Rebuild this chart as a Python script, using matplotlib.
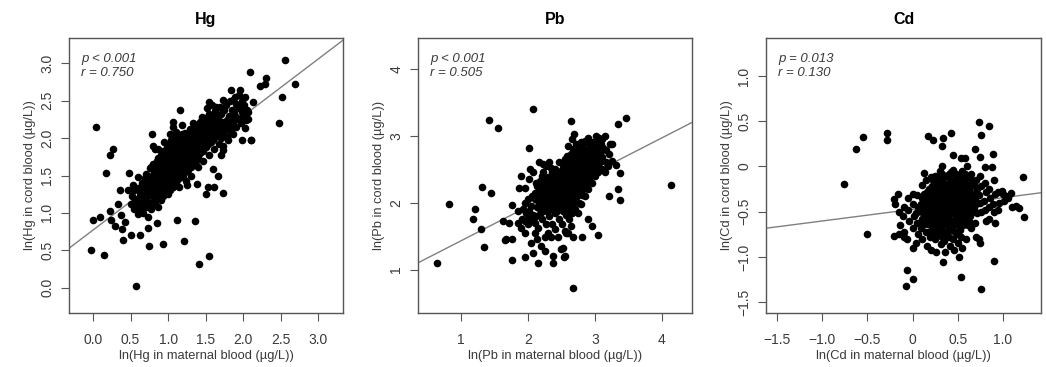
import matplotlib
matplotlib.use("Agg")
import matplotlib.pyplot as plt

plt.rcParams['font.family'] = ['Liberation Sans', 'DejaVu Sans']

# ---------------- data ----------------
titles = ["Hg", "Pb", "Cd"]
xlabels = ["ln(Hg in maternal blood (µg/L))", "ln(Pb in maternal blood (µg/L))", "ln(Cd in maternal blood (µg/L))"]
ylabels = ["ln(Hg in cord blood (µg/L))", "ln(Pb in cord blood (µg/L))", "ln(Cd in cord blood (µg/L))"]
p_texts = ["p < 0.001", "p < 0.001", "p = 0.013"]
r_texts = ["r = 0.750", "r = 0.505", "r = 0.130"]
fit_intercepts = [0.77, 0.915, -0.474]
fit_slopes = [0.763, 0.513, 0.129]
xlims = [(-0.32, 3.33), (0.36, 4.45), (-1.62, 1.42)]
ylims = [(-0.34, 3.34), (0.35, 4.46), (-1.62, 1.42)]
xticks = [[0.0, 0.5, 1.0, 1.5, 2.0, 2.5, 3.0], [1, 2, 3, 4], [-1.5, -1.0, -0.5, 0, 0.5, 1.0]]
xticklabels = [["0.0", "0.5", "1.0", "1.5", "2.0", "2.5", "3.0"], ["1", "2", "3", "4"],
               ["\u22121.5", "\u22121.0", "\u22120.5", "0", "0.5", "1.0"]]
yticks = [[0.0, 0.5, 1.0, 1.5, 2.0, 2.5, 3.0], [1, 2, 3, 4], [-1.5, -1.0, -0.5, 0, 0.5, 1.0]]
yticklabels = [["0.0", "0.5", "1.0", "1.5", "2.0", "2.5", "3.0"], ["1", "2", "3", "4"],
               ["\u22121.5", "\u22121.0", "\u22120.5", "0", "0.5", "1.0"]]

hg_points = [
    # sparse / outlying points
    (-0.03, 0.50), (0.00, 0.90), (0.09, 0.94), (0.04, 2.15), (0.14, 0.44), (0.17, 1.53), (0.22, 1.03),
    (0.23, 1.77), (0.27, 1.86), (0.24, 0.90), (0.29, 0.83), (0.33, 1.12), (0.36, 1.30), (0.37, 0.97),
    (0.40, 0.64), (0.38, 0.79), (0.42, 0.88), (0.46, 1.30), (0.48, 1.54), (0.50, 0.70), (0.53, 1.37),
    (0.57, 0.02), (0.62, 1.19), (0.60, 1.48), (0.62, 0.70), (0.75, 0.55), (0.73, 0.80), (0.79, 2.05),
    (0.80, 1.90), (0.83, 1.86), (0.85, 0.87), (0.93, 0.59), (1.16, 2.37), (1.12, 0.91), (1.21, 0.63),
    (1.36, 0.89), (1.41, 0.31), (1.54, 0.42), (1.50, 1.25), (1.53, 1.35), (1.61, 1.35), (1.73, 1.26),
    (1.67, 1.50), (1.60, 1.59), (1.25, 1.37), (1.38, 1.39), (1.55, 2.49), (1.64, 2.42), (1.73, 2.51),
    (1.84, 2.64), (1.96, 2.64), (1.87, 2.51), (1.91, 2.46), (2.02, 2.37), (2.04, 2.24), (2.02, 2.13),
    (2.11, 1.97), (1.98, 1.97), (1.87, 2.15), (1.78, 2.20), (1.69, 2.11), (1.73, 1.84), (1.71, 1.77),
    (2.09, 2.88), (2.13, 2.48), (2.07, 2.35), (2.22, 2.70), (2.29, 2.72), (2.30, 2.81), (2.56, 3.05),
    (2.52, 2.55), (2.48, 2.20), (2.69, 2.72), (2.10, 1.98),
    # dense core
    (0.50, 1.12), (0.52, 1.22), (0.55, 1.05), (0.56, 1.18), (0.54, 1.30),
    (0.60, 0.98), (0.59, 1.10), (0.61, 1.20), (0.60, 1.33),
    (0.63, 1.05), (0.64, 1.15), (0.62, 1.27), (0.65, 1.40),
    (0.67, 1.00), (0.68, 1.10), (0.66, 1.22), (0.67, 1.35), (0.69, 1.47),
    (0.70, 1.08), (0.71, 1.17), (0.72, 1.28), (0.70, 1.40), (0.71, 1.52),
    (0.73, 0.95), (0.74, 1.12), (0.75, 1.24), (0.73, 1.33), (0.74, 1.45), (0.76, 1.60),
    (0.77, 1.05), (0.78, 1.15), (0.77, 1.27), (0.79, 1.38), (0.78, 1.50), (0.77, 1.62),
    (0.80, 1.10), (0.81, 1.20), (0.80, 1.32), (0.82, 1.42), (0.81, 1.55), (0.80, 1.66),
    (0.83, 1.15), (0.84, 1.25), (0.85, 1.36), (0.83, 1.47), (0.84, 1.58), (0.85, 1.70), (0.86, 1.08),
    (0.87, 1.20), (0.88, 1.30), (0.87, 1.40), (0.89, 1.52), (0.88, 1.62), (0.87, 1.73), (0.86, 1.85),
    (0.90, 1.17), (0.91, 1.27), (0.92, 1.37), (0.90, 1.46), (0.91, 1.57), (0.92, 1.67), (0.90, 1.78),
    (0.93, 1.22), (0.94, 1.33), (0.95, 1.43), (0.93, 1.52), (0.95, 1.62), (0.94, 1.72), (0.93, 1.83), (0.95, 1.95),
    (0.97, 1.28), (0.98, 1.38), (0.97, 1.48), (0.99, 1.58), (0.98, 1.67), (0.97, 1.77), (0.99, 1.88),
    (1.00, 1.25), (1.01, 1.35), (1.02, 1.45), (1.00, 1.55), (1.01, 1.63), (1.02, 1.72), (1.00, 1.82), (1.01, 1.92), (1.02, 2.05),
    (1.03, 1.30), (1.04, 1.42), (1.05, 1.52), (1.03, 1.60), (1.04, 1.68), (1.05, 1.77), (1.03, 1.87), (1.04, 1.97), (1.06, 2.15),
    (1.07, 1.35), (1.08, 1.47), (1.07, 1.57), (1.09, 1.65), (1.08, 1.73), (1.07, 1.82), (1.09, 1.92), (1.08, 2.02), (1.07, 2.22),
    (1.10, 1.40), (1.11, 1.50), (1.12, 1.60), (1.10, 1.70), (1.11, 1.78), (1.12, 1.86), (1.10, 1.96), (1.11, 2.08),
    (1.13, 1.45), (1.14, 1.55), (1.15, 1.64), (1.13, 1.73), (1.14, 1.82), (1.15, 1.90), (1.13, 2.00), (1.14, 1.35),
    (1.17, 1.50), (1.18, 1.60), (1.17, 1.68), (1.19, 1.77), (1.18, 1.86), (1.17, 1.95), (1.19, 2.05), (1.18, 2.17),
    (1.20, 1.48), (1.21, 1.57), (1.22, 1.66), (1.20, 1.74), (1.21, 1.82), (1.22, 1.92), (1.20, 2.00),
    (1.23, 1.55), (1.24, 1.63), (1.25, 1.72), (1.23, 1.80), (1.24, 1.88), (1.25, 1.97), (1.23, 2.07), (1.24, 1.42),
    (1.27, 1.58), (1.28, 1.68), (1.27, 1.77), (1.29, 1.85), (1.28, 1.93), (1.27, 2.02), (1.29, 2.12),
    (1.30, 1.62), (1.31, 1.72), (1.32, 1.80), (1.30, 1.90), (1.31, 1.98), (1.32, 2.07), (1.30, 1.50),
    (1.33, 1.66), (1.34, 1.76), (1.35, 1.85), (1.33, 1.94), (1.34, 2.03), (1.35, 2.12), (1.33, 2.20),
    (1.37, 1.70), (1.38, 1.80), (1.37, 1.90), (1.39, 1.98), (1.38, 2.08), (1.37, 2.17),
    (1.40, 1.75), (1.41, 1.85), (1.42, 1.94), (1.40, 2.03), (1.41, 2.12), (1.42, 2.22), (1.40, 1.62),
    (1.43, 1.80), (1.44, 1.90), (1.45, 1.98), (1.43, 2.08), (1.44, 2.17), (1.45, 2.28),
    (1.47, 1.83), (1.48, 1.93), (1.47, 2.03), (1.49, 2.12), (1.48, 2.22), (1.47, 1.70),
    (1.50, 1.88), (1.51, 1.97), (1.52, 2.07), (1.50, 2.16), (1.51, 2.27), (1.52, 2.40),
    (1.53, 1.92), (1.54, 2.02), (1.55, 2.12), (1.53, 2.20), (1.54, 2.32), (1.55, 1.78),
    (1.57, 1.95), (1.58, 2.05), (1.57, 2.15), (1.59, 2.25), (1.58, 2.45),
    (1.60, 1.98), (1.61, 2.10), (1.62, 2.20), (1.60, 2.30), (1.61, 1.85),
    (1.63, 2.02), (1.64, 2.13), (1.65, 2.24), (1.63, 2.36),
    (1.67, 2.05), (1.68, 2.17), (1.67, 2.28), (1.69, 2.42), (1.68, 1.92),
    (1.70, 2.00), (1.71, 2.12), (1.72, 2.22), (1.70, 2.32),
    (1.73, 2.08), (1.74, 2.18), (1.75, 2.38), (1.73, 1.90),
    (1.77, 2.12), (1.78, 2.24), (1.77, 2.44), (1.79, 2.02),
    (1.80, 2.18), (1.81, 2.30), (1.82, 2.50), (1.80, 1.98),
    (1.83, 2.10), (1.84, 2.25), (1.85, 2.38),
    (1.87, 2.20), (1.88, 2.33), (1.89, 2.55), (1.87, 2.05),
    (1.90, 2.15), (1.91, 2.28), (1.92, 2.45),
    (1.93, 2.25), (1.94, 2.40), (1.95, 2.58),
    (1.97, 2.20), (1.98, 2.35), (1.99, 2.50),
    (2.00, 2.30), (2.01, 2.45), (2.02, 2.55), (2.05, 2.38), (2.06, 2.25),
]

pb_points = [
    # sparse / outlying points
    (0.65, 1.10), (0.82, 1.98), (1.21, 1.90), (1.18, 1.76), (1.30, 1.60), (1.31, 2.23), (1.45, 2.15),
    (1.35, 1.34), (1.42, 3.23), (1.56, 3.11), (2.07, 3.40), (2.02, 2.82), (2.64, 3.22), (2.67, 0.72),
    (3.35, 3.17), (3.47, 3.26), (4.14, 2.27), (3.21, 2.10), (3.37, 2.04), (3.34, 2.21), (3.37, 2.44),
    (3.32, 2.56), (3.05, 1.51), (2.95, 1.65), (2.90, 1.76), (2.81, 1.48), (2.68, 1.49), (2.57, 1.55),
    (2.54, 1.19), (2.52, 1.32), (2.37, 1.20), (2.37, 1.10), (2.15, 1.10), (1.95, 1.19), (1.77, 1.14),
    (2.07, 1.25), (1.66, 1.44), (1.68, 1.46), (1.77, 1.46), (1.63, 1.73), (1.72, 1.70), (1.77, 1.97),
    (2.69, 3.03), (2.66, 2.95),
    # dense core
    (1.85, 1.70), (1.86, 1.88), (1.87, 2.22),
    (1.90, 1.62), (1.91, 1.75), (1.92, 1.90), (1.90, 2.40),
    (1.95, 1.55), (1.96, 1.72), (1.97, 1.85), (1.95, 2.00), (1.96, 2.22),
    (2.00, 1.68), (2.01, 1.78), (2.02, 1.88), (2.00, 2.05), (2.01, 2.35), (2.03, 2.50),
    (2.05, 1.40), (2.06, 1.72), (2.07, 1.82), (2.05, 1.95), (2.06, 2.10), (2.07, 2.45),
    (2.10, 1.55), (2.11, 1.70), (2.12, 1.80), (2.10, 2.05), (2.11, 2.15), (2.12, 2.30), (2.13, 1.45),
    (2.15, 1.62), (2.16, 1.92), (2.17, 2.00), (2.15, 2.10), (2.16, 2.20), (2.17, 2.60),
    (2.20, 1.35), (2.21, 1.75), (2.22, 1.88), (2.20, 1.98), (2.21, 2.08), (2.22, 2.18), (2.20, 2.28), (2.21, 2.40), (2.23, 2.58),
    (2.25, 1.28), (2.26, 1.48), (2.27, 1.68), (2.25, 1.92), (2.26, 2.02), (2.27, 2.12), (2.25, 2.22), (2.26, 2.35), (2.27, 2.55),
    (2.30, 1.55), (2.31, 1.80), (2.32, 1.95), (2.30, 2.05), (2.31, 2.15), (2.32, 2.25), (2.30, 2.38), (2.31, 2.60),
    (2.35, 1.48), (2.36, 1.68), (2.37, 1.90), (2.35, 2.00), (2.36, 2.10), (2.37, 2.20), (2.35, 2.30), (2.36, 2.45),
    (2.40, 1.60), (2.41, 1.85), (2.42, 1.95), (2.40, 2.05), (2.41, 2.15), (2.42, 2.25), (2.40, 2.35), (2.41, 2.50),
    (2.45, 1.48), (2.46, 1.75), (2.47, 1.92), (2.45, 2.02), (2.46, 2.12), (2.47, 2.22), (2.45, 2.32), (2.46, 2.42), (2.47, 2.60),
    (2.50, 1.30), (2.51, 1.68), (2.52, 1.88), (2.50, 1.98), (2.51, 2.08), (2.52, 2.18), (2.50, 2.28), (2.51, 2.40), (2.52, 2.52),
    (2.55, 1.20), (2.56, 1.58), (2.57, 1.82), (2.55, 1.95), (2.56, 2.05), (2.57, 2.15), (2.55, 2.25), (2.56, 2.35), (2.57, 2.48), (2.55, 2.65),
    (2.60, 1.55), (2.61, 1.75), (2.62, 1.90), (2.60, 2.02), (2.61, 2.12), (2.62, 2.22), (2.60, 2.32), (2.61, 2.42), (2.62, 2.55), (2.60, 2.85),
    (2.65, 1.65), (2.66, 1.85), (2.67, 2.08), (2.65, 2.18), (2.66, 2.28), (2.67, 2.38), (2.65, 2.50), (2.66, 2.62), (2.67, 2.80),
    (2.70, 1.90), (2.71, 2.05), (2.72, 2.15), (2.70, 2.25), (2.71, 2.35), (2.72, 2.45), (2.70, 2.58), (2.71, 2.70), (2.72, 2.88),
    (2.75, 1.85), (2.76, 2.00), (2.77, 2.20), (2.75, 2.30), (2.76, 2.40), (2.77, 2.52), (2.75, 2.65), (2.76, 2.78),
    (2.80, 1.98), (2.81, 2.12), (2.82, 2.28), (2.80, 2.38), (2.81, 2.48), (2.82, 2.58), (2.80, 2.70), (2.81, 2.85),
    (2.85, 2.10), (2.86, 2.25), (2.87, 2.40), (2.85, 2.52), (2.86, 2.62), (2.87, 2.75), (2.85, 2.92),
    (2.90, 2.20), (2.91, 2.35), (2.92, 2.48), (2.90, 2.60), (2.91, 2.72), (2.92, 2.82), (2.90, 2.97),
    (2.95, 2.30), (2.96, 2.45), (2.97, 2.58), (2.95, 2.68), (2.96, 2.80), (2.97, 2.90),
    (3.00, 2.40), (3.01, 2.52), (3.02, 2.65), (3.00, 2.78), (3.01, 2.92), (3.02, 3.00),
    (3.05, 2.45), (3.06, 2.62), (3.07, 2.75), (3.05, 2.88), (3.06, 2.97),
    (3.10, 2.50), (3.11, 2.68), (3.12, 2.82), (3.10, 2.95),
    (3.15, 2.45), (3.16, 2.60), (3.17, 2.78), (3.15, 3.00),
    (3.20, 2.55), (3.21, 2.72), (3.22, 2.87),
    (3.25, 2.62), (3.26, 2.88),
    # dense core, in-between points
    (2.13, 1.93), (2.13, 2.13), (2.14, 2.25),
    (2.18, 1.83), (2.18, 2.03), (2.19, 2.13), (2.18, 2.33),
    (2.23, 1.93), (2.23, 2.03), (2.24, 2.13), (2.23, 2.45),
    (2.28, 1.87), (2.28, 1.97), (2.29, 2.07), (2.28, 2.17), (2.28, 2.30),
    (2.33, 1.90), (2.33, 2.00), (2.34, 2.10), (2.33, 2.20), (2.33, 2.33), (2.34, 2.52),
    (2.38, 1.95), (2.38, 2.05), (2.39, 2.15), (2.38, 2.25), (2.38, 2.40),
    (2.43, 1.88), (2.43, 2.00), (2.44, 2.10), (2.43, 2.20), (2.43, 2.30), (2.44, 2.45),
    (2.48, 1.95), (2.48, 2.05), (2.49, 2.15), (2.48, 2.25), (2.48, 2.35), (2.49, 2.47),
    (2.53, 1.93), (2.53, 2.03), (2.54, 2.13), (2.53, 2.23), (2.53, 2.33), (2.54, 2.45), (2.53, 2.58),
    (2.58, 2.00), (2.58, 2.10), (2.59, 2.20), (2.58, 2.30), (2.58, 2.40), (2.59, 2.52), (2.58, 2.70),
    (2.63, 1.97), (2.63, 2.07), (2.64, 2.17), (2.63, 2.27), (2.63, 2.37), (2.64, 2.48), (2.63, 2.60), (2.64, 2.72),
    (2.68, 2.00), (2.68, 2.12), (2.69, 2.22), (2.68, 2.32), (2.68, 2.42), (2.69, 2.53), (2.68, 2.65), (2.69, 2.78),
    (2.73, 2.10), (2.73, 2.20), (2.74, 2.30), (2.73, 2.40), (2.73, 2.50), (2.74, 2.62), (2.73, 2.75),
    (2.78, 2.15), (2.78, 2.25), (2.79, 2.35), (2.78, 2.45), (2.78, 2.55), (2.79, 2.65), (2.78, 2.75), (2.79, 2.90),
    (2.83, 2.20), (2.83, 2.33), (2.84, 2.45), (2.83, 2.55), (2.83, 2.65), (2.84, 2.80),
    (2.88, 2.30), (2.88, 2.42), (2.89, 2.55), (2.88, 2.67), (2.88, 2.78), (2.89, 2.90),
    (2.93, 2.40), (2.93, 2.52), (2.94, 2.62), (2.93, 2.75), (2.93, 2.86),
    (2.98, 2.48), (2.98, 2.60), (2.99, 2.72), (2.98, 2.85),
    (3.03, 2.55), (3.03, 2.70), (3.04, 2.82),
    (3.08, 2.60), (3.08, 2.75), (3.09, 2.88),
]

cd_points = [
    # sparse / outlying points
    (-0.76, -0.19), (-0.63, 0.19), (-0.55, 0.33), (-0.50, -0.75), (-0.28, 0.37), (-0.28, 0.29),
    (-0.21, -0.77), (-0.06, -1.15), (-0.07, -1.32), (0.01, -1.24), (0.17, 0.34), (0.23, 0.29),
    (0.34, 0.31), (0.33, 0.23), (0.43, 0.37), (0.74, 0.49), (0.84, 0.45), (0.76, 0.35), (0.33, 0.01),
    (0.45, 0.13), (0.54, 0.09), (0.58, 0.09), (0.69, 0.19), (0.75, 0.11), (0.80, -0.01), (0.88, -0.01),
    (0.89, 0.14), (0.13, -0.07), (1.22, -0.12), (1.23, -0.56), (1.14, -0.44), (1.18, -0.46),
    (0.90, -1.05), (0.54, -1.22), (0.76, -1.35), (0.34, -1.06), (0.00, -0.90), (-0.20, -0.36),
    (-0.19, -0.42), (1.09, -0.29), (1.05, -0.35), (-0.10, -0.78), (-0.15, -0.75),
    # dense core
    (-0.15, -0.50), (-0.14, -0.65), (-0.16, -0.30),
    (-0.10, -0.45), (-0.09, -0.72), (-0.11, -0.55),
    (-0.05, -0.35), (-0.04, -0.60), (-0.06, -0.80), (-0.05, -0.48),
    (0.00, -0.30), (0.01, -0.42), (0.02, -0.55), (0.00, -0.68),
    (0.05, -0.32), (0.06, -0.45), (0.04, -0.52), (0.05, -0.62), (0.06, -0.75), (0.04, -0.85),
    (0.10, -0.20), (0.11, -0.35), (0.09, -0.42), (0.10, -0.50), (0.11, -0.58), (0.09, -0.68), (0.10, -0.80),
    (0.15, -0.15), (0.16, -0.28), (0.14, -0.38), (0.15, -0.45), (0.16, -0.52), (0.14, -0.60), (0.15, -0.72), (0.16, -0.88),
    (0.20, -0.12), (0.21, -0.22), (0.19, -0.30), (0.20, -0.38), (0.21, -0.45), (0.19, -0.52), (0.20, -0.60), (0.21, -0.68), (0.19, -0.78), (0.20, -0.92),
    (0.25, -0.10), (0.26, -0.18), (0.24, -0.26), (0.25, -0.34), (0.26, -0.41), (0.24, -0.48), (0.25, -0.55), (0.26, -0.62), (0.24, -0.70), (0.25, -0.80), (0.26, -0.95),
    (0.30, -0.05), (0.31, -0.15), (0.29, -0.24), (0.30, -0.32), (0.31, -0.40), (0.29, -0.47), (0.30, -0.54), (0.31, -0.61), (0.29, -0.68), (0.30, -0.76), (0.31, -0.86),
    (0.35, -0.12), (0.36, -0.20), (0.34, -0.28), (0.35, -0.36), (0.36, -0.43), (0.34, -0.50), (0.35, -0.57), (0.36, -0.64), (0.34, -0.72), (0.35, -0.82), (0.36, -0.95),
    (0.40, -0.08), (0.41, -0.17), (0.39, -0.25), (0.40, -0.33), (0.41, -0.40), (0.39, -0.47), (0.40, -0.54), (0.41, -0.61), (0.39, -0.70), (0.40, -0.78), (0.41, -0.88),
    (0.45, -0.04), (0.46, -0.14), (0.44, -0.22), (0.45, -0.30), (0.46, -0.38), (0.44, -0.45), (0.45, -0.52), (0.46, -0.60), (0.44, -0.68), (0.45, -0.80), (0.46, -0.92),
    (0.50, -0.10), (0.51, -0.19), (0.49, -0.27), (0.50, -0.35), (0.51, -0.43), (0.49, -0.50), (0.50, -0.58), (0.51, -0.66), (0.49, -0.75), (0.50, -0.85), (0.51, -1.00),
    (0.55, -0.05), (0.56, -0.15), (0.54, -0.24), (0.55, -0.32), (0.56, -0.40), (0.54, -0.48), (0.55, -0.57), (0.56, -0.65), (0.54, -0.78), (0.55, -0.90),
    (0.60, 0.00), (0.61, -0.12), (0.59, -0.22), (0.60, -0.30), (0.61, -0.38), (0.59, -0.46), (0.60, -0.55), (0.61, -0.65), (0.59, -0.80),
    (0.65, -0.08), (0.66, -0.18), (0.64, -0.28), (0.65, -0.36), (0.66, -0.45), (0.64, -0.55), (0.65, -0.68), (0.66, -0.50),
    (0.70, -0.15), (0.71, -0.25), (0.69, -0.35), (0.70, -0.42), (0.71, -0.52), (0.69, -0.62), (0.70, -0.78),
    (0.75, -0.10), (0.76, -0.22), (0.74, -0.32), (0.75, -0.40), (0.76, -0.50), (0.74, -0.80), (0.75, -0.85),
    (0.80, -0.18), (0.81, -0.28), (0.79, -0.38), (0.80, -0.48), (0.81, -0.60),
    (0.85, -0.25), (0.86, -0.35), (0.84, -0.45), (0.85, -0.58),
    (0.90, -0.15), (0.91, -0.30), (0.89, -0.42), (0.90, -0.50), (0.91, -0.62),
    (0.95, -0.28), (0.96, -0.40), (0.94, -0.48),
    (1.00, -0.30), (1.01, -0.38), (0.99, -0.27),
    (1.05, -0.33), (1.10, -0.45),
    # dense core, in-between points
    (0.13, -0.30), (0.13, -0.40), (0.12, -0.48), (0.13, -0.55), (0.13, -0.64),
    (0.18, -0.25), (0.18, -0.34), (0.17, -0.42), (0.18, -0.49), (0.18, -0.56), (0.17, -0.64), (0.18, -0.72),
    (0.23, -0.15), (0.23, -0.26), (0.22, -0.34), (0.23, -0.41), (0.23, -0.48), (0.22, -0.56), (0.23, -0.65), (0.23, -0.74),
    (0.28, -0.12), (0.28, -0.20), (0.27, -0.29), (0.28, -0.37), (0.28, -0.44), (0.27, -0.51), (0.28, -0.58), (0.28, -0.65), (0.27, -0.73),
    (0.33, -0.08), (0.33, -0.17), (0.32, -0.25), (0.33, -0.33), (0.33, -0.40), (0.32, -0.47), (0.33, -0.54), (0.33, -0.61), (0.32, -0.68), (0.33, -0.78),
    (0.38, -0.10), (0.38, -0.19), (0.37, -0.27), (0.38, -0.34), (0.38, -0.42), (0.37, -0.49), (0.38, -0.56), (0.38, -0.63), (0.37, -0.74),
    (0.43, -0.06), (0.43, -0.15), (0.42, -0.23), (0.43, -0.31), (0.43, -0.38), (0.42, -0.45), (0.43, -0.52), (0.43, -0.60), (0.42, -0.70),
    (0.48, -0.08), (0.48, -0.17), (0.47, -0.25), (0.48, -0.33), (0.48, -0.40), (0.47, -0.47), (0.48, -0.55), (0.48, -0.63), (0.47, -0.72),
    (0.53, -0.12), (0.53, -0.21), (0.52, -0.29), (0.53, -0.37), (0.53, -0.45), (0.52, -0.53), (0.53, -0.61), (0.53, -0.70),
    (0.58, -0.08), (0.58, -0.18), (0.57, -0.27), (0.58, -0.35), (0.58, -0.43), (0.57, -0.51), (0.58, -0.60),
    (0.63, -0.13), (0.63, -0.23), (0.62, -0.32), (0.63, -0.41), (0.63, -0.50), (0.62, -0.60),
    (0.68, -0.20), (0.68, -0.30), (0.67, -0.40), (0.68, -0.47),
]

all_points = [hg_points, pb_points, cd_points]

# ---------------- figure ----------------
W, H = 1046, 367
fig = plt.figure(figsize=(W / 100, H / 100), dpi=100)
boxes_px = [(69, 38, 343, 313), (418, 38, 692, 313), (766, 38, 1041, 313)]

txt_col = "#3a3a3a"
for i in range(3):
    x0, y0, x1, y1 = boxes_px[i]
    ax = fig.add_axes([x0 / W, 1 - y1 / H, (x1 - x0) / W, (y1 - y0) / H])
    xs = [p[0] for p in all_points[i]]
    ys = [p[1] for p in all_points[i]]
    ax.scatter(xs, ys, s=30, c="black", linewidths=0, zorder=3)
    ax.axline((0, fit_intercepts[i]), slope=fit_slopes[i], color="#808080", lw=1.0, zorder=2)
    ax.set_xlim(*xlims[i])
    ax.set_ylim(*ylims[i])
    ax.set_xticks(xticks[i])
    ax.set_xticklabels(xticklabels[i])
    ax.set_yticks(yticks[i])
    ax.set_yticklabels(yticklabels[i], rotation=90, va="center")
    ax.tick_params(axis="both", direction="out", length=5.5, width=0.8, color="#555555",
                   labelsize=10, labelcolor=txt_col)
    ax.tick_params(axis="x", pad=9)
    ax.tick_params(axis="y", pad=5)
    for sp in ax.spines.values():
        sp.set_color("#555555")
        sp.set_linewidth(1.0)
    ax.set_title(titles[i], fontsize=11.5, fontweight="bold", color="black", pad=10)
    ax.set_xlabel(xlabels[i], fontsize=9.3, color=txt_col, labelpad=2)
    ax.set_ylabel(ylabels[i], fontsize=9.3, color=txt_col, labelpad=3)
    ax.text(0.045, 0.925, p_texts[i], transform=ax.transAxes, fontsize=9.5, style="italic",
            color=txt_col, va="center", ha="left")
    ax.text(0.045, 0.874, r_texts[i], transform=ax.transAxes, fontsize=9.5, style="italic",
            color=txt_col, va="center", ha="left")

fig.savefig("out.png", dpi=100)
